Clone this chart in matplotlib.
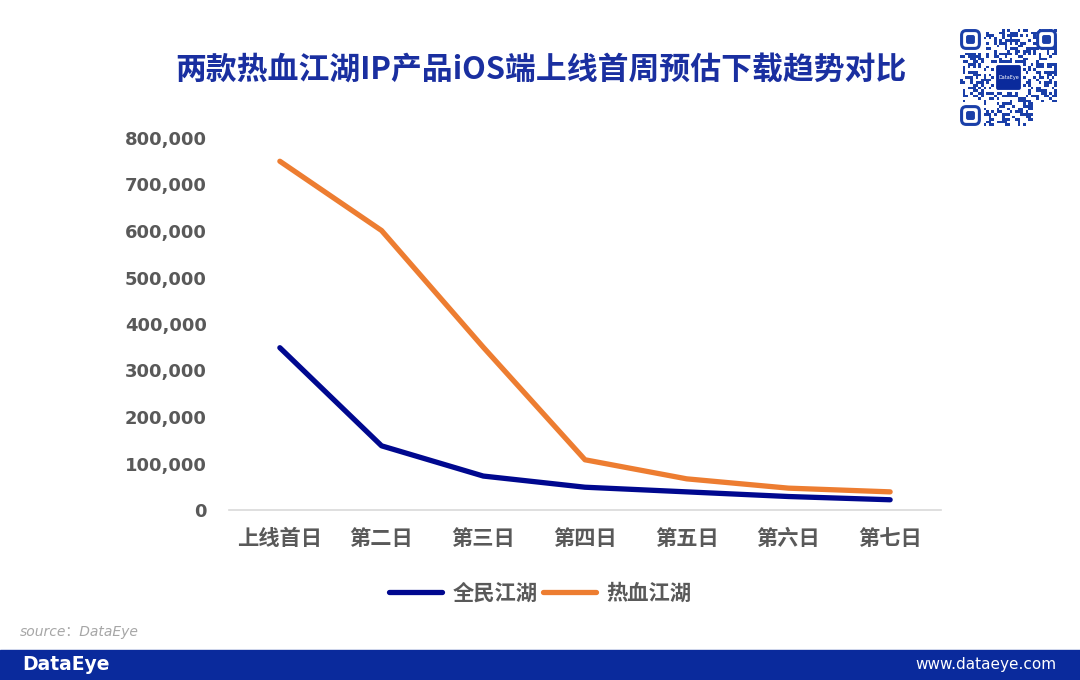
import numpy as np
import matplotlib
matplotlib.use("Agg")
import matplotlib.pyplot as plt
from matplotlib.patches import Rectangle, FancyBboxPatch
from matplotlib.ticker import FuncFormatter

plt.rcParams['font.family'] = ['Noto Sans CJK SC', 'DejaVu Sans']

days = ["上线首日", "第二日", "第三日", "第四日", "第五日", "第六日", "第七日"]
quanmin = [349000, 138000, 73000, 49000, 39000, 29000, 22000]    # 全民江湖
rexue = [750000, 601000, 350000, 108000, 67000, 47000, 39000]    # 热血江湖
yticks = [0, 100000, 200000, 300000, 400000, 500000, 600000, 700000, 800000]

title = "两款热血江湖IP产品iOS端上线首周预估下载趋势对比"
blue = "#00088f"
orange = "#ed7d31"
band = "#0a2a9c"
qr_blue = "#1a3fa8"
txt_gray = "#595959"

fig = plt.figure(figsize=(10.8, 6.8), dpi=100)
ax = fig.add_axes([229/1080, 170/680, 712/1080, 372/680])

x = np.arange(len(days))
ax.plot(x, quanmin, color=blue, lw=3.8, label="全民江湖", solid_capstyle='round')
ax.plot(x, rexue, color=orange, lw=3.8, label="热血江湖", solid_capstyle='round')

ax.set_xlim(-0.5, len(days) - 0.5)
ax.set_ylim(0, 800000)
ax.set_yticks(yticks)
ax.yaxis.set_major_formatter(FuncFormatter(lambda v, p: f"{int(v):,}"))
ax.set_xticks(x)
ax.set_xticklabels(days)
ax.tick_params(axis='y', length=0, pad=16, labelcolor=txt_gray)
ax.tick_params(axis='x', length=0, pad=13, labelsize=15.3, labelcolor=txt_gray)
for lab in ax.get_yticklabels():
    lab.set_fontweight('bold')
    lab.set_family('DejaVu Sans')
    lab.set_fontsize(13)
for lab in ax.get_xticklabels():
    lab.set_fontweight('bold')
for s in ['top', 'right', 'left']:
    ax.spines[s].set_visible(False)
ax.spines['bottom'].set_color('#d9d9d9')
ax.spines['bottom'].set_linewidth(1.2)

leg = fig.legend(loc='center', bbox_to_anchor=(540/1080, 1 - 593/680), ncol=2,
                 frameon=False, handlelength=2.5, columnspacing=0.25, handletextpad=0.5,
                 prop={'size': 15.3, 'weight': 'bold'})
for t in leg.get_texts():
    t.set_color(txt_gray)

fig.text(541/1080, 1 - 70/680, title, ha='center', va='center', fontsize=22.2,
         fontweight='bold', color="#1a2fa0")

# source line
fig.text(20/1080, 1 - 632/680, "source：DataEye", ha='left', va='center', fontsize=10,
         style='italic', color='#a6a6a6', family=['DejaVu Sans', 'Noto Sans CJK SC'])

# bottom band
fig.patches.append(Rectangle((0, 0), 1, 30/680, transform=fig.transFigure, color=band, zorder=0))
fig.text(22/1080, 15/680, "DataEye", ha='left', va='center', fontsize=13.5,
         fontweight='bold', color='white', family='DejaVu Sans')
fig.text(1056/1080, 15/680, "www.dataeye.com", ha='right', va='center', fontsize=11,
         color='white', family='DejaVu Sans')

# QR-style badge (decorative module pattern)
n = 37
qr = fig.add_axes([960/1080, 1 - 126/680, 97/1080, 97/680])
qr.set_xlim(0, n)
qr.set_ylim(0, n)
qr.axis('off')
seed = 12345
for i in range(n):
    for j in range(n):
        seed = (seed * 1103515245 + 12345) % 2147483648
        if (i < 9 and j < 9) or (i < 9 and j > n - 10) or (i > n - 10 and j < 9):
            continue
        if 13 <= i <= 23 and 13 <= j <= 23:
            continue
        if (seed >> 16) % 100 < 42:
            qr.add_patch(Rectangle((i, j), 1, 1, color=qr_blue, lw=0))
for (cx, cy) in [(0, n - 8), (n - 8, n - 8), (0, 0)]:
    qr.add_patch(FancyBboxPatch((cx + 0.6, cy + 0.6), 6.8, 6.8,
                                boxstyle="round,pad=0,rounding_size=1.8",
                                fc='white', ec=qr_blue, lw=2.2))
    qr.add_patch(FancyBboxPatch((cx + 2.3, cy + 2.3), 3.4, 3.4,
                                boxstyle="round,pad=0,rounding_size=0.8",
                                fc=qr_blue, ec='none'))
qr.add_patch(FancyBboxPatch((13.5, 13.5), 10, 10, boxstyle="round,pad=0,rounding_size=1",
                            fc=band, ec='white', lw=1))
qr.text(18.5, 18.5, "DataEye", ha='center', va='center', fontsize=3.5, color='white',
        family='DejaVu Sans')

fig.savefig("out.png", dpi=100)
